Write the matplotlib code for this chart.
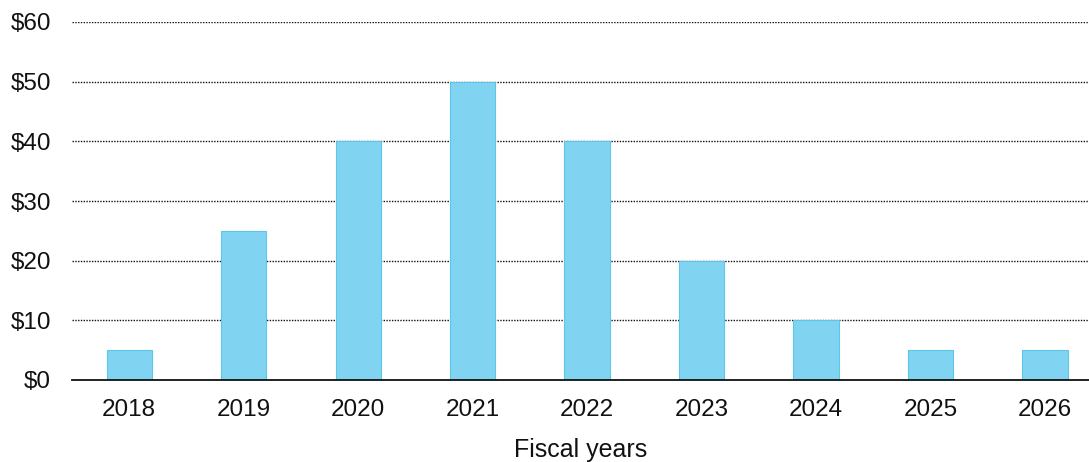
import matplotlib
matplotlib.use("Agg")
import matplotlib.pyplot as plt

years = ["2018", "2019", "2020", "2021", "2022", "2023", "2024", "2025", "2026"]
values = [5, 25, 40, 50, 40, 20, 10, 5, 5]
yticks = [0, 10, 20, 30, 40, 50, 60]
ytick_labels = ["$0", "$10", "$20", "$30", "$40", "$50", "$60"]

plt.rcParams['font.family'] = ['Liberation Sans', 'DejaVu Sans']

fig = plt.figure(figsize=(10.89, 4.62), dpi=100)
ax = fig.add_axes([72/1089, 82/462, 1 - 72/1089, (380-22)/462])

x = list(range(len(years)))
ax.bar(x, values, width=0.395, color="#80d4f1", edgecolor="#5cc6e8", linewidth=0.8, zorder=3)

ax.set_xlim(-0.5, len(years) - 1 + 0.385)
ax.set_ylim(0, 60)
ax.set_yticks(yticks)
ax.set_yticklabels(ytick_labels)
ax.set_xticks(x)
ax.set_xticklabels(years)
ax.tick_params(axis='both', length=0, labelsize=17.5, colors="#111111")
ax.tick_params(axis='y', pad=15)
ax.tick_params(axis='x', pad=14)

for y in yticks[1:]:
    ax.axhline(y, color="#111111", linestyle=(0, (1, 1)), linewidth=1.0, zorder=1)

for s in ["top", "right", "left"]:
    ax.spines[s].set_visible(False)
ax.spines["bottom"].set_color("#111111")
ax.spines["bottom"].set_linewidth(1.3)
ax.spines["bottom"].set_zorder(4)

ax.set_xlabel("Fiscal years", fontsize=18, color="#111111", labelpad=12)

fig.savefig("out.png", dpi=100)
